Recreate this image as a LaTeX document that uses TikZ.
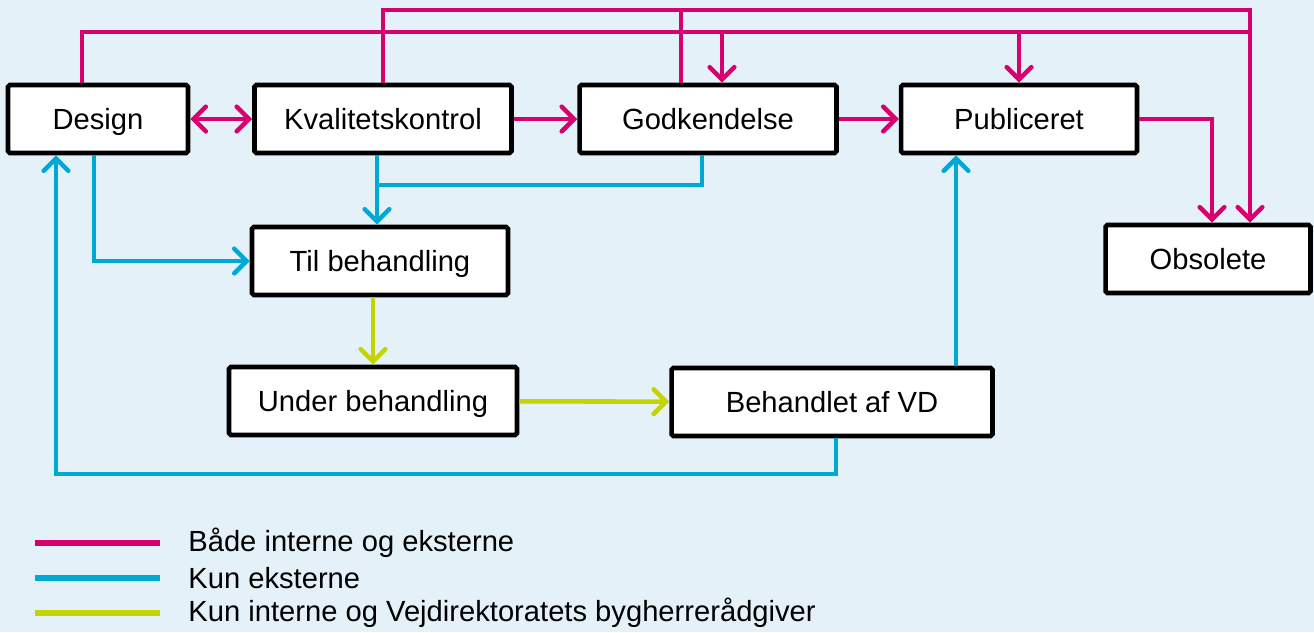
\documentclass[tikz,border=0pt]{standalone}
\usepackage{fontspec}
\setmainfont{Liberation Sans}
\usetikzlibrary{arrows.meta}

\definecolor{bgblue}{RGB}{228,241,248}
\definecolor{magenta}{RGB}{214,0,111}
\definecolor{cyanblue}{RGB}{0,169,212}
\definecolor{limegreen}{RGB}{195,212,0}

\begin{document}
\begin{tikzpicture}[
    x=0.02cm, y=-0.02cm,
    state/.style={draw, fill=white, line width=2.6pt, rounded corners=1pt,
                  minimum height=1.36cm, inner sep=0pt,
                  text height=15.4pt, text depth=3.5pt,
                  font=\fontsize{16.6}{19}\selectfont},
    tip/.style={-{Straight Barb[length=7pt, width=14pt, line cap=round]}},
    both/.style={draw=magenta, line width=2.6pt},
    ext/.style={draw=cyanblue, line width=2.6pt},
    intern/.style={draw=limegreen, line width=2.6pt},
    key/.style={font=\fontsize{16.6}{19}\selectfont, anchor=west, inner sep=0pt},
]

    \fill[bgblue] (0,0) rectangle (1314,632);
    \useasboundingbox (0,0) rectangle (1314,632);

    % states
    \node[state, minimum width=3.6cm] (design) at (98,119) {Design};
    \node[state, minimum width=5.14cm] (kval) at (383,119) {Kvalitetskontrol};
    \node[state, minimum width=5.14cm] (godk) at (708,119) {Godkendelse};
    \node[state, minimum width=4.72cm] (publ) at (1019,119) {Publiceret};
    \node[state, minimum width=4.1cm] (obs) at (1208,259) {Obsolete};
    \node[state, minimum width=5.12cm] (til) at (380,261) {Til behandling};
    \node[state, minimum width=5.76cm] (under) at (373,401) {Under behandling};
    \node[state, minimum width=6.42cm] (beh) at (832,402) {Behandlet af VD};

    % helper columns and rows
    \coordinate (toprow) at (0,10);
    \coordinate (secrow) at (0,32);
    \coordinate (midrow) at (0,185);
    \coordinate (botrow) at (0,474);
    \coordinate (designup) at (82,0);
    \coordinate (godkup) at (681,0);
    \coordinate (godkin) at (722,0);
    \coordinate (obsA) at (1212,0);
    \coordinate (obsB) at (1250,0);
    \coordinate (kvaldown) at (377,0);
    \coordinate (godkdown) at (702,0);
    \coordinate (designout) at (94,0);
    \coordinate (designin) at (56,0);
    \coordinate (behout) at (836,0);
    \coordinate (publin) at (956,0);

    % both internal and external
    \draw[both, {Straight Barb[length=7pt, width=14pt, line cap=round]}-{Straight Barb[length=7pt, width=14pt, line cap=round]}] (design) -- (kval);
    \draw[both, tip] (kval) -- (godk);
    \draw[both, tip] (godk) -- (publ);
    \draw[both, tip] (publ.east) -| (obs.north -| obsA);
    \draw[both, tip] (kval.north) |- (toprow -| obsB) -- (obs.north -| obsB);
    \draw[both] (godk.north -| godkup) -- (toprow -| godkup);
    \draw[both] (design.north -| designup) |- (secrow -| obsB);
    \draw[both, tip] (secrow -| godkin) -- (godk.north -| godkin);
    \draw[both, tip] (secrow -| publ.north) -- (publ.north);

    % external only
    \draw[ext, tip] (kval.south -| kvaldown) -- (til.north -| kvaldown);
    \draw[ext] (godk.south -| godkdown) |- (midrow -| kvaldown);
    \draw[ext, tip] (design.south -| designout) |- (til.west);
    \draw[ext, tip] (beh.south -| behout) |- (botrow -| designin) -- (design.south -| designin);
    \draw[ext, tip] (beh.north -| publin) -- (publ.south -| publin);

    % internal and road directorate advisor
    \draw[intern, tip] (under.north |- til.south) -- (under.north);
    \draw[intern, tip] (under) -- (beh);

    % legend
    \coordinate (lgA) at (35,0);
    \coordinate (lgB) at (160,0);
    \node[key] (k1) at (188,543) {Både interne og eksterne};
    \node[key] (k2) at (188,578) {Kun eksterne};
    \node[key] (k3) at (188,613) {Kun interne og Vejdirektoratets bygherrerådgiver};
    \draw[both, line width=3.6pt] (k1.west -| lgA) -- (k1.west -| lgB);
    \draw[ext, line width=3.6pt] (k2.west -| lgA) -- (k2.west -| lgB);
    \draw[intern, line width=3.6pt] (k3.west -| lgA) -- (k3.west -| lgB);

\end{tikzpicture}
\end{document}
